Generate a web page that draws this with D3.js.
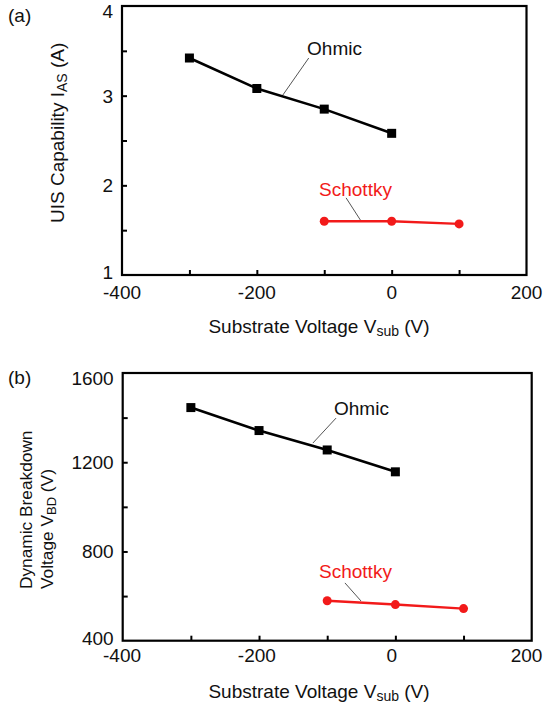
<!DOCTYPE html>
<html>
<head>
<meta charset="utf-8">
<script src="https://cdn.jsdelivr.net/npm/d3@7"></script>
<style>
  html, body { margin: 0; padding: 0; background: #fff; }
  svg { display: block; font-family: "Liberation Sans", Arial, sans-serif; }
</style>
</head>
<body>
<svg id="chart" width="543" height="709"></svg>
<script>
// ---------- data ----------
const xTickLabels = [-400, -200, 0, 200];
const xMinorTicks = [-300, -200, -100, 0, 100];
const ohmicVsub = [-300, -200, -100, 0];
const schottkyVsub = [-100, 0, 100];

const uisOhmic = [3.42, 3.08, 2.85, 2.58];
const uisSchottky = [1.60, 1.60, 1.57];
const uisTickLabels = [1, 2, 3, 4];
const uisTicks = [1.5, 2, 2.5, 3, 3.5];

const vbdOhmic = [1445, 1342, 1255, 1157];
const vbdSchottky = [579, 562, 544];
const vbdTickLabels = [400, 800, 1200, 1600];
const vbdTicks = [600, 800, 1000, 1200, 1400];

// ---------- styles / layout ----------
const FONT = 19;
const SUB = 14;
const RED = "#f21a1a";
const svg = d3.select("#chart");

function drawPanel(cfg) {
  const x = d3.scaleLinear().domain([-400, 200]).range([cfg.left, cfg.right]);
  const y = d3.scaleLinear().domain(cfg.yDomain).range([cfg.bottom, cfg.top]);
  const g = svg.append("g");

  // x ticks (inward)
  const xAxis = d3.axisBottom(x).tickValues(xMinorTicks).tickSize(-5).tickFormat("");
  g.append("g").attr("transform", `translate(0,${cfg.bottom})`).call(xAxis)
    .call(s => s.select(".domain").remove())
    .call(s => s.selectAll("line").attr("stroke", "#000").attr("stroke-width", 2));
  // y ticks (inward)
  const yAxis = d3.axisLeft(y).tickValues(cfg.yTicks).tickSize(-5).tickFormat("");
  g.append("g").attr("transform", `translate(${cfg.left},0)`).call(yAxis)
    .call(s => s.select(".domain").remove())
    .call(s => s.selectAll("line").attr("stroke", "#000").attr("stroke-width", 2));

  // frame
  g.append("rect").attr("x", cfg.left).attr("y", cfg.top)
    .attr("width", cfg.right - cfg.left).attr("height", cfg.bottom - cfg.top)
    .attr("fill", "none").attr("stroke", "#000").attr("stroke-width", 2.2);

  // y tick labels
  g.selectAll(".ylab").data(cfg.yLabels).join("text")
    .attr("x", cfg.left - 9)
    .attr("y", d => Math.min(Math.max(y(d), cfg.top + 5), cfg.bottom - 3))
    .attr("dy", "0.36em")
    .attr("text-anchor", "end")
    .attr("font-size", FONT).attr("fill", "#111")
    .text(d => d);

  // x tick labels
  g.selectAll(".xlab").data(xTickLabels).join("text")
    .attr("x", d => cfg.xLabelScale(d))
    .attr("y", cfg.xLabelBaseline)
    .attr("text-anchor", "middle")
    .attr("font-size", FONT).attr("fill", "#111")
    .text(d => d);

  // x title
  const xt = g.append("text").attr("x", 319).attr("y", cfg.xTitleBaseline)
    .attr("text-anchor", "middle").attr("font-size", FONT).attr("fill", "#111");
  xt.append("tspan").text("Substrate Voltage V");
  xt.append("tspan").attr("font-size", SUB).attr("dy", 3).text("sub");
  xt.append("tspan").attr("dy", -3).text(" (V)");

  // panel label
  g.append("text").attr("x", 8).attr("y", cfg.panelLabelY)
    .attr("font-size", FONT).attr("fill", "#111").text(cfg.panelLabel);

  // y title
  cfg.yTitle(g);

  // series
  const line = d3.line().x(d => x(d[0])).y(d => y(d[1]));
  const ohm = d3.zip(ohmicVsub, cfg.ohmic);
  const sch = d3.zip(schottkyVsub, cfg.schottky);

  // annotations (in data coordinates)
  cfg.annotations.forEach(a => {
    g.append("line")
      .attr("x1", x(a.from[0])).attr("y1", y(a.from[1]))
      .attr("x2", x(a.to[0])).attr("y2", y(a.to[1]))
      .attr("stroke", "#555").attr("stroke-width", 1);
    g.append("text").attr("x", x(a.at[0])).attr("y", y(a.at[1]))
      .attr("font-size", FONT).attr("fill", a.color).text(a.text);
  });

  g.append("path").datum(ohm).attr("d", line).attr("fill", "none")
    .attr("stroke", "#000").attr("stroke-width", 2.6);
  g.selectAll(".sq").data(ohm).join("rect")
    .attr("x", d => x(d[0]) - 4.5).attr("y", d => y(d[1]) - 4.5)
    .attr("width", 9).attr("height", 9).attr("fill", "#000");

  g.append("path").datum(sch).attr("d", line).attr("fill", "none")
    .attr("stroke", RED).attr("stroke-width", 2.4);
  g.selectAll(".ci").data(sch).join("circle")
    .attr("cx", d => x(d[0])).attr("cy", d => y(d[1])).attr("r", 4.5).attr("fill", RED);
}

const topX = d3.scaleLinear().domain([-400, 200]).range([122, 526.5]);

drawPanel({
  left: 122, right: 526.5, top: 6, bottom: 275,
  yDomain: [1, 4], yTicks: uisTicks, yLabels: uisTickLabels,
  ohmic: uisOhmic, schottky: uisSchottky,
  xLabelScale: topX, xLabelBaseline: 299, xTitleBaseline: 333,
  panelLabel: "(a)", panelLabelY: 22,
  yTitle: g => {
    const t = g.append("text").attr("transform", "translate(64,223) rotate(-90)")
      .attr("font-size", FONT).attr("fill", "#111");
    t.append("tspan").text("UIS Capability I");
    t.append("tspan").attr("font-size", SUB).attr("dy", 3).text("AS");
    t.append("tspan").attr("dy", -3).text(" (A)");
  },
  annotations: [
    { text: "Ohmic", color: "#111", at: [-125.5, 3.45], from: [-123, 3.42], to: [-163, 2.99] },
    { text: "Schottky", color: RED, at: [-107.7, 1.88], from: [-67.6, 1.86], to: [-45.3, 1.60] }
  ]
});

drawPanel({
  left: 122.7, right: 531.7, top: 373, bottom: 640.7,
  yDomain: [400, 1600], yTicks: vbdTicks, yLabels: vbdTickLabels,
  ohmic: vbdOhmic, schottky: vbdSchottky,
  xLabelScale: topX, xLabelBaseline: 662, xTitleBaseline: 698,
  panelLabel: "(b)", panelLabelY: 384,
  yTitle: g => {
    g.append("text").attr("transform", "translate(31.5,589) rotate(-90)")
      .attr("font-size", 17.3).attr("fill", "#111").text("Dynamic Breakdown");
    const t = g.append("text").attr("transform", "translate(53,589) rotate(-90)")
      .attr("font-size", 17.3).attr("fill", "#111");
    t.append("tspan").text("Voltage V");
    t.append("tspan").attr("font-size", 13).attr("dy", 3).text("BD");
    t.append("tspan").attr("dy", -3).text(" (V)");
  },
  annotations: [
    { text: "Ohmic", color: "#111", at: [-90, 1412], from: [-87, 1398], to: [-121, 1286] },
    { text: "Schottky", color: RED, at: [-112, 681], from: [-74, 659], to: [-50.4, 578] }
  ]
});
</script>
</body>
</html>
